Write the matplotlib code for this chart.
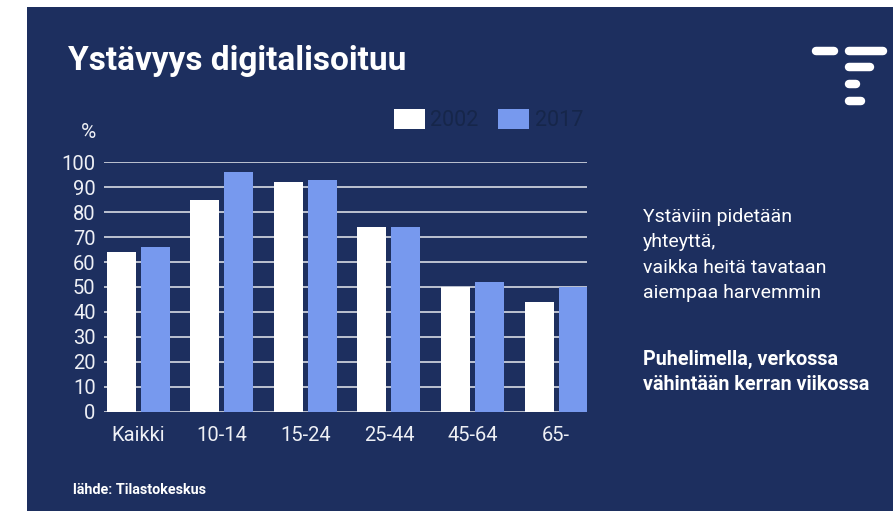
import numpy as np
import matplotlib
matplotlib.use("Agg")
import matplotlib.pyplot as plt
from matplotlib.patches import Rectangle

# Ystävien yhteydenpito ikäryhmittäin, %
categories = ["Kaikki", "10-14", "15-24", "25-44", "45-64", "65-"]
share_2002 = [64, 85, 92, 74, 50, 44]
share_2017 = [66, 96, 93, 74, 52, 50]
y_ticks = [0, 10, 20, 30, 40, 50, 60, 70, 80, 90, 100]

NAVY = "#1d2f5f"
BLUE = "#7799ee"
GRID = "#c9ced9"
LEGEND_TXT = "#16264a"
AXIS_TXT = "#eef0f5"

W, H = 893, 511
fig = plt.figure(figsize=(W / 100, H / 100), dpi=100, facecolor="white")

# tausta ja logo pikselikoordinaateissa
bg = fig.add_axes([0, 0, 1, 1], zorder=0)
bg.set_xlim(0, W)
bg.set_ylim(H, 0)
bg.axis("off")
bg.add_patch(Rectangle((27, 7), W - 27, H - 7, facecolor=NAVY, edgecolor="none"))
for x0, x1, y in [(816, 834, 51), (849, 883, 51), (849, 870, 67.5),
                  (849, 856, 84), (849, 861, 101)]:
    bg.plot([x0, x1], [y, y], color="white", lw=6.1, solid_capstyle="round")

fig.text(68 / W, 1 - 61 / H, "Ystävyys digitalisoituu", color="white",
         fontsize=24, fontweight="bold", family="Roboto", va="center", ha="left")

# pylväskaavio
ax = fig.add_axes([104 / W, 1 - 411.7 / H, 483 / W, 249.4 / H], zorder=1)
ax.set_facecolor("none")
x = np.arange(len(categories))
bw = 0.347
ax.bar(x - 0.203, share_2002, bw, color="white", label="2002", zorder=3)
ax.bar(x + 0.203, share_2017, bw, color=BLUE, label="2017", zorder=3)

ax.set_xlim(-0.41, 5.37)
ax.set_ylim(0, 100)
ax.set_yticks(y_ticks)
ax.set_xticks(x)
ax.set_xticklabels(categories)
for v in y_ticks:
    ax.axhline(v, color=GRID, lw=1.3, zorder=1)
for s in ax.spines.values():
    s.set_visible(False)
ax.tick_params(axis="both", length=0, colors="white")
ax.tick_params(axis="y", pad=6)
ax.tick_params(axis="x", pad=10)
for lab in ax.get_xticklabels() + ax.get_yticklabels():
    lab.set_family("Roboto")
    lab.set_fontsize(14.5)
    lab.set_color(AXIS_TXT)

fig.text(88 / W, 1 - 133 / H, "%", color=AXIS_TXT, fontsize=15,
         family="Roboto", ha="center", va="center")

leg = ax.legend(loc="upper right", bbox_to_anchor=(583 / W, 1 - 109 / H),
                bbox_transform=fig.transFigure, ncol=2, frameon=False,
                prop={"family": "Roboto", "size": 15.5},
                handlelength=1.45, handleheight=1.05, handletextpad=0.25,
                columnspacing=0.9, borderpad=0, borderaxespad=0)
for t in leg.get_texts():
    t.set_color(LEGEND_TXT)

# sivuteksti
side_lines = ["Ystäviin pidetään", "yhteyttä,", "vaikka heitä tavataan",
              "aiempaa harvemmin"]
for i, line in enumerate(side_lines):
    fig.text(643 / W, 1 - (217 + 25.3 * i) / H, line, color="white",
             fontsize=14, family="Roboto", va="center", ha="left")
for i, line in enumerate(["Puhelimella, verkossa", "vähintään kerran viikossa"]):
    fig.text(643 / W, 1 - (359 + 25.3 * i) / H, line, color="white",
             fontsize=14.2, family="Roboto", fontweight="bold",
             va="center", ha="left")

fig.text(73 / W, 1 - 490 / H, "lähde: Tilastokeskus", color="white",
         fontsize=10.4, family="Roboto", fontweight="bold", va="center", ha="left")

fig.savefig("out.png", dpi=100, facecolor="white")
